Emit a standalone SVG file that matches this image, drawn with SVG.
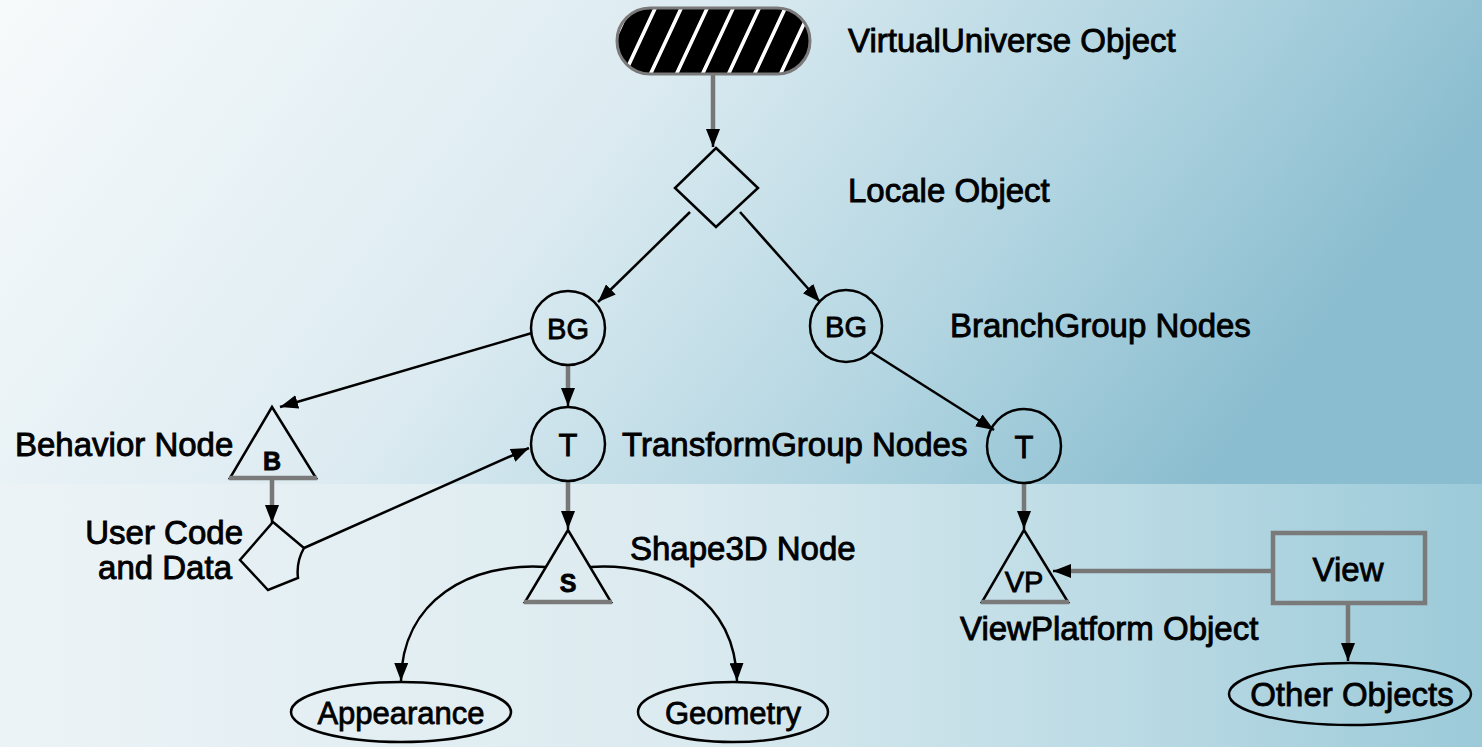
<svg xmlns="http://www.w3.org/2000/svg" width="1482" height="747" viewBox="0 0 1482 747">
<style>
.lbl{font-family:"Liberation Sans",Arial,sans-serif;font-size:33px;fill:#000;stroke:#000;stroke-width:0.9}
.in{font-family:"Liberation Sans",Arial,sans-serif;fill:#000;stroke:#000;stroke-width:0.8;text-anchor:middle}
.shape{fill:none;stroke:#000;stroke-width:2.5}
.base{stroke:#7a7a7a;stroke-width:4.5;fill:none}
.ln{fill:none;stroke:#000;stroke-width:2.5}
.gl{fill:none;stroke:#777;stroke-width:4.5}
</style>
<defs>
<linearGradient id="bgTop" x1="0" y1="0" x2="1" y2="0.25">
<stop offset="0" stop-color="#f7fafb"/>
<stop offset="0.45" stop-color="#dcebf1"/>
<stop offset="0.75" stop-color="#b2d5e1"/>
<stop offset="1" stop-color="#8abdcf"/>
</linearGradient>
<linearGradient id="bgBot" x1="0" y1="0" x2="1" y2="0">
<stop offset="0" stop-color="#ecf3f6"/>
<stop offset="0.45" stop-color="#dcebf0"/>
<stop offset="0.75" stop-color="#bcdbe5"/>
<stop offset="1" stop-color="#9ccad9"/>
</linearGradient>
<pattern id="hatch" patternUnits="userSpaceOnUse" width="26" height="10" patternTransform="translate(620,0) skewX(-25)">
<rect width="26" height="10" fill="#000"/>
<rect x="11" width="4" height="10" fill="#fff"/>
</pattern>
<marker id="ah" markerUnits="userSpaceOnUse" markerWidth="18" markerHeight="14" refX="18" refY="7" orient="auto">
<path d="M0,0 L18,7 L0,14 z" fill="#000"/>
</marker>
</defs>
<rect x="0" y="0" width="1482" height="484" fill="url(#bgTop)"/>
<rect x="0" y="484" width="1482" height="263" fill="url(#bgBot)"/>

<g id="connectors">
<path class="gl" d="M713,74 L713,134"/><path class="ln" d="M713,130 L713,147" marker-end="url(#ah)"/>
<path class="ln" d="M690,212 L598,302" marker-end="url(#ah)"/>
<path class="ln" d="M740,212 L820,302" marker-end="url(#ah)"/>
<path class="gl" d="M568,365 L568,392"/><path class="ln" d="M568,388 L568,406" marker-end="url(#ah)"/>
<path class="ln" d="M532,333 L280,407" marker-end="url(#ah)"/>
<path class="gl" d="M272,479 L272,509"/><path class="ln" d="M272,505 L272,523" marker-end="url(#ah)"/>
<path class="ln" d="M304,548 L529,448" marker-end="url(#ah)"/>
<path class="gl" d="M568,481 L568,515"/><path class="ln" d="M568,511 L568,529" marker-end="url(#ah)"/>
<path class="ln" d="M871,352 L994,430" marker-end="url(#ah)"/>
<path class="gl" d="M1024,483 L1024,515"/><path class="ln" d="M1024,511 L1024,529" marker-end="url(#ah)"/>
<path class="gl" d="M1273,571 L1065,571"/><path class="ln" d="M1070,571 L1053,571" marker-end="url(#ah)"/>
<path class="gl" d="M1348,604 L1348,647"/><path class="ln" d="M1348,643 L1348,661" marker-end="url(#ah)"/>
<path class="ln" d="M546,567 C470,562 402,600 401,681" marker-end="url(#ah)"/>
<path class="ln" d="M590,567 C668,562 735,600 737,681" marker-end="url(#ah)"/>
</g>

<g id="virtualUniverse">
<rect x="617" y="8" width="193" height="66" rx="33" fill="url(#hatch)" stroke="#7a7a7a" stroke-width="3"/>
<text class="lbl" x="848" y="52">VirtualUniverse Object</text>
</g>

<g id="locale">
<polygon class="shape" points="716,148 758,188 716,227 675,188"/>
<text class="lbl" x="848" y="202">Locale Object</text>
</g>

<g id="bgLeft">
<circle class="shape" cx="568" cy="328" r="37"/>
<text class="in" x="568" y="339" font-size="29">BG</text>
</g>

<g id="bgRight">
<circle class="shape" cx="846" cy="326" r="36"/>
<text class="in" x="846" y="337" font-size="29">BG</text>
<text class="lbl" x="950" y="337">BranchGroup Nodes</text>
</g>

<g id="behavior">
<polygon class="shape" points="272,407 230,478 316,478"/>
<line class="base" x1="229" y1="478" x2="317" y2="478"/>
<text class="in" x="272" y="470" font-size="25" font-weight="bold">B</text>
<text class="lbl" x="15" y="456">Behavior Node</text>
</g>

<g id="userCode">
<path class="shape" d="M273,522 L304,548 Q296,562 298,578 L268,590 L240,560 Z"/>
<text class="lbl" x="243" y="544" text-anchor="end" font-size="31">User Code</text>
<text class="lbl" x="232" y="579" text-anchor="end" font-size="31">and Data</text>
</g>

<g id="tLeft">
<circle class="shape" cx="568" cy="444" r="37"/>
<text class="in" x="568" y="456" font-size="31">T</text>
<text class="lbl" x="622" y="456">TransformGroup Nodes</text>
</g>

<g id="shape3d">
<polygon class="shape" points="568,530 525,602 611,602"/>
<line class="base" x1="524" y1="602" x2="612" y2="602"/>
<text class="in" x="568" y="592" font-size="25" font-weight="bold">S</text>
<text class="lbl" x="630" y="560">Shape3D Node</text>
</g>

<g id="appearance">
<ellipse class="shape" cx="401" cy="712" rx="110" ry="30"/>
<text class="in" x="401" y="724" font-size="31">Appearance</text>
</g>

<g id="geometry">
<ellipse class="shape" cx="733" cy="712" rx="95" ry="30"/>
<text class="in" x="733" y="724" font-size="31">Geometry</text>
</g>

<g id="tRight">
<circle class="shape" cx="1024" cy="446" r="37"/>
<text class="in" x="1024" y="458" font-size="31">T</text>
</g>

<g id="viewPlatform">
<polygon class="shape" points="1024,530 982,602 1068,602"/>
<line class="base" x1="981" y1="602" x2="1069" y2="602"/>
<text class="in" x="1024" y="592" font-size="29">VP</text>
<text class="lbl" x="960" y="640">ViewPlatform Object</text>
</g>

<g id="view">
<rect x="1273" y="533" width="152" height="70" fill="none" stroke="#7a7a7a" stroke-width="4.5"/>
<text class="in" x="1348" y="581" font-size="33">View</text>
</g>

<g id="otherObjects">
<ellipse class="shape" cx="1350" cy="694" rx="121" ry="31"/>
<text class="in" x="1352" y="706" font-size="33">Other Objects</text>
</g>
</svg>
